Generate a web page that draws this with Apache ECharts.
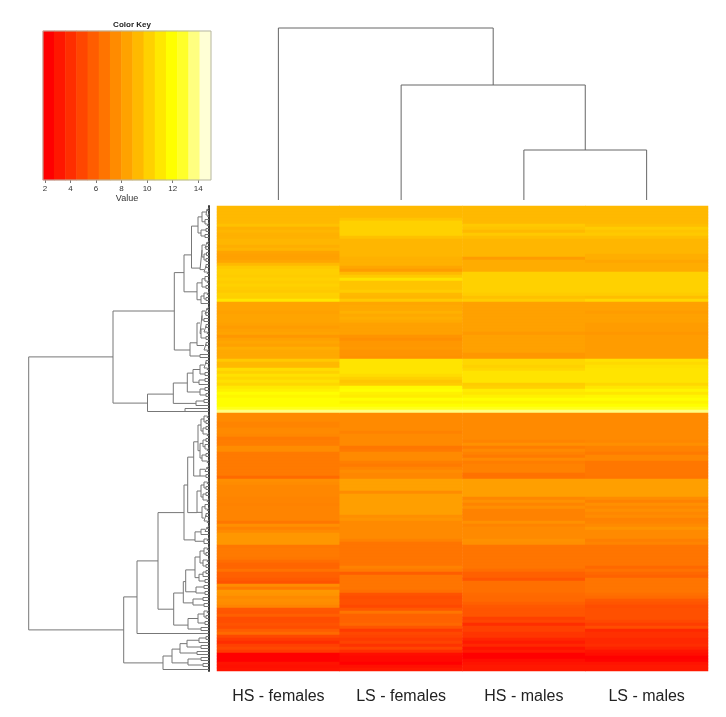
<!DOCTYPE html>
<html>
<head>
<meta charset="utf-8">
<style>html,body{margin:0;padding:0;background:#fff}#c{width:726px;height:717px}</style>
<script src="https://cdn.jsdelivr.net/npm/echarts@6/dist/echarts.min.js"></script>
</head>
<body>
<div id="c"></div>
<script>
const groups = ['HS - females','LS - females','HS - males','LS - males'];

const hsFemales = [9.3,9.3,9.3,9.3,9.3,9.3,9.6,9.0,9.2,9.0,9.0,9.2,9.2,8.9,9.1,8.5,8.4,8.4,8.6,9.3,9.9,10.1,10.1,10.0,10.2,10.0,10.2,10.0,9.9,10.2,10.1,11.0,8.5,8.5,8.5,8.4,8.5,8.5,8.5,
 8.4,8.2,8.4,8.5,8.0,8.4,8.6,8.4,8.9,8.7,8.7,8.7,9.9,9.3,9.3,
 10.6,10.2,10.8,10.4,10.8,10.4,11.1,11.4,11.9,11.6,11.9,11.9,11.9,12.5,13.7,
 7.5,7.5,7.5,7.3,7.3,7.5,7.5,7.4,6.9,
 7.0,7.0,7.6,7.6,6.9,6.9,6.9,6.9,6.9,6.9,6.9,6.9,6.3,
 7.7,7.6,7.4,7.4,7.4,7.4,7.3,7.3,7.2,7.3,7.3,7.3,7.3,7.3,6.8,
 7.7,7.2,7.5,8.0,8.0,8.0,8.0,6.8,6.9,6.9,6.9,6.8,
 6.4,6.1,6.1,6.6,5.9,5.9,5.7,5.4,7.6,6.9,8.0,7.9,7.5,7.7,7.6,7.3,
 5.6,5.5,5.9,5.2,5.2,5.4,5.2,5.8,6.3,5.0,4.5,4.0,4.7,5.0,4.5,2.3,2.3,2.3,3.0,2.9,3.0];

const lsFemales = [9.3,9.3,9.3,9.3,9.7,10.2,10.2,10.2,10.2,10.2,9.6,9.2,9.2,9.2,9.2,9.2,9.2,9.0,9.0,9.0,8.6,8.2,9.3,9.9,10.8,9.7,9.7,9.7,10.0,9.3,9.2,9.9,8.6,8.7,8.7,9.0,8.7,8.9,8.7,
 8.4,8.4,8.4,8.4,7.9,7.7,8.0,8.0,8.1,7.9,7.9,7.8,10.9,10.9,10.9,
 10.9,10.9,10.6,10.2,9.8,10.0,11.7,11.9,11.4,11.2,11.9,11.5,11.9,12.5,13.7,
 7.5,7.5,7.5,7.5,7.5,7.5,7.2,7.5,7.5,
 7.5,7.5,6.8,6.9,7.5,7.5,7.5,7.1,6.9,7.3,7.6,7.4,7.4,
 8.4,8.4,8.4,8.4,7.6,8.3,8.3,8.3,8.3,8.3,8.3,8.3,7.7,7.9,7.5,
 7.5,7.5,7.5,7.5,7.5,7.2,6.7,6.7,6.7,6.7,6.7,6.7,
 6.7,6.7,7.2,6.9,5.8,6.7,6.7,6.7,6.7,6.7,6.5,5.4,5.2,5.3,5.3,5.0,
 5.6,6.7,6.0,6.0,6.0,6.2,5.5,4.5,5.0,4.8,4.5,4.8,4.2,4.9,4.0,2.8,2.6,2.6,2.3,2.9,3.2];

const hsMales = [9.3,9.3,9.3,9.3,9.3,9.3,9.9,9.7,9.3,9.9,9.5,9.2,9.2,9.2,9.2,9.2,9.2,8.2,8.8,8.8,8.8,8.8,10.2,10.2,10.2,10.2,10.2,10.2,10.2,10.0,9.6,10.0,8.4,8.4,8.4,8.4,8.4,8.4,8.4,
 8.4,8.4,8.4,8.1,8.4,8.4,8.4,8.4,8.4,8.4,8.0,8.0,10.4,10.4,10.2,
 10.4,10.9,10.9,10.9,10.9,10.0,10.2,11.2,11.0,11.4,11.9,11.5,11.9,12.5,13.7,
 7.5,7.5,7.5,7.5,7.5,7.5,7.5,7.5,7.5,
 7.3,7.8,7.0,7.5,7.2,6.9,7.5,7.0,7.2,7.2,7.2,6.6,6.6,
 8.3,8.3,8.3,8.3,8.3,8.3,7.4,7.8,7.3,7.7,7.2,7.2,7.2,7.2,7.8,
 7.3,7.5,7.5,7.5,7.5,7.8,7.7,6.7,6.7,6.7,6.7,6.7,
 6.7,6.7,6.7,6.4,5.9,5.9,5.5,6.5,6.5,6.5,6.5,6.3,6.2,6.2,5.9,5.6,
 5.5,5.5,5.5,4.7,4.9,4.0,4.7,4.7,4.3,4.3,3.7,3.3,3.8,3.0,3.3,2.3,2.3,2.8,3.0,3.2,3.2];

const lsMales = [9.3,9.3,9.3,9.3,9.3,9.3,9.5,10.0,9.7,9.9,9.5,9.2,9.2,9.2,9.2,9.2,8.9,8.9,8.6,8.8,8.8,8.8,10.2,10.2,10.2,10.2,10.2,10.2,10.2,10.0,9.5,10.4,8.4,8.4,8.4,8.2,8.4,8.4,8.4,
 8.2,8.2,8.2,8.0,8.2,8.2,8.2,8.2,8.2,8.2,8.2,8.2,10.8,10.5,10.8,
 10.9,10.9,10.9,10.9,10.9,10.4,11.0,11.5,11.0,11.6,11.9,11.5,11.9,12.5,13.7,
 7.5,7.5,7.5,7.5,7.5,7.5,7.5,7.5,7.5,
 7.4,7.7,7.2,7.2,6.9,7.4,7.4,6.8,6.8,6.8,6.8,6.8,6.7,
 8.3,8.3,8.3,8.3,8.3,8.3,7.6,7.2,7.7,7.4,7.7,7.4,7.6,7.2,7.3,
 7.5,7.9,7.5,7.5,7.5,7.1,7.3,6.7,6.7,6.7,6.7,6.7,
 6.7,6.7,6.2,6.6,6.2,6.0,6.7,6.7,6.7,6.7,6.7,6.5,6.3,5.7,5.5,5.2,
 5.3,5.3,5.3,5.3,5.0,4.6,5.2,3.8,4.1,4.1,3.8,3.8,4.0,3.6,3.0,2.8,2.3,2.4,3.0,3.2,3.2];

const keyValues = [2.29,3.17,4.04,4.92,5.80,6.67,7.55,8.43,9.30,10.18,11.06,11.93,12.81,13.69,14.57];
const keyColors = ['#FF0000','#FF1700','#FF2E00','#FF4600','#FF5D00','#FF7400','#FF8B00','#FFA200','#FFB900','#FFD100','#FFE800','#FFFF00','#FFFF2A','#FFFF80','#FFFFD5'];
const keyTicks = [2,4,6,8,10,12,14];

// Dendrograms: [height, child, child, optional position]; 0 is a leaf.
const columnTree = [172,0,[115,0,[50,0,0]]];

const clusterD1 = [11,[7,[3,[2,0,0],[1.5,0,0]],[4,0,[2,0,0]]],[8,[3,0,0],[4,0,0]],6.7];
const clusterD2a = [7,[4,[2,0,0],[3,0,0]],[5,[2.5,0,0],[3,0,0]],14.7];
const clusterD2b = [5,[3,0,0],[2,0,0],21.2];
const clusterH = [12,[7,[4,0,[2,0,0]],[3,0,0]],[8,[5,[2,0,0],[3,0,0]],0],28.6];
const clusterG1a = [9,[7,[4,[2,0,0],[3,0,0]],[5,0,0]],[8,[5,[3,0,0],[2,0,0]],[3,0,0]],39];
const clusterG1b = [5,[3,0,0],[2,0,0],46.5];
const clusterG2 = [9,0,0,50];
const clusterF1a1 = [16,[9,[5,[3,0,0],[2,0,0]],[4,0,0]],[10,[4,0,0],0],55.7];
const clusterF1a2 = [9,[4,0,0],[3,0,0],62];
const clusterF1b = [13,[5,0,0],0,65.8];
const clusterF2 = [24,0,0,68.5];
const clusterP1a = [11,[8,[5,[2,0,0],[3,0,0]],[6,[3,0,0],[2,0,0]]],[9,[6,[3,0,0],[4,0,[2,0,0]]],[7,[3,0,0],[2,0,0]]],78.6];
const clusterP1b = [9,[4,[2,0,0],0],[3,0,0],90];
const clusterP2 = [12,[8,[5,[2,0,0],[3,0,0]],[6,[3,0,0],[2,0,0]]],[7,[4,0,[2,0,0]],[5,[3,0,0],[2,0,0]]],102.2];
const clusterQ = [14,[8,[4,[2,0,0],0],0],[5,[2,0,0],0],111.3];
const clusterN1a1 = [14,[9,[5,[2,0,0],[3,0,0]],[6,[2,0,0],[3,0,0]]],[10,[6,[3,0,0],0],[4,0,0]],121.3];
const clusterN1a2 = [13,[5,0,0],[4,0,0],128.6];
const clusterN1b = [16,[6,0,0],[5,0,0],132.3];
const clusterN2 = [21,[11,[5,[2,0,0],[3,0,0]],[4,0,0]],[8,0,0],139.7];
const clusterS1a = [29,[22,[10,[3,0,0],0],[8,0,0]],[12,0,0],147.7];
const clusterS1b = [21,[8,0,0],[6,0,0],152.3];

const branchD = [17.5,clusterD1,[9,clusterD2a,clusterD2b,20.7],16.3];
const branchC = [25,branchD,clusterH,22.2];
const branchG = [19,[12,clusterG1a,clusterG1b,45.6],clusterG2,48];
const branchB = [34.7,branchC,branchG,35];
const branchF1 = [35.7,[21.7,clusterF1a1,clusterF1a2,59],clusterF1b,62.7];
const branchF = [61.5,branchF1,clusterF2,65.7];
const branchA = [96,branchB,branchF,50.3];
const branchP = [21.3,[15.3,clusterP1a,clusterP1b,83.7],clusterP2,93];
const branchM = [25,branchP,clusterQ,102.2];
const branchN1 = [25.7,[23.3,clusterN1a1,clusterN1a2,125.2],clusterN1b,129];
const branchN = [35.3,branchN1,clusterN2,134.4];
const branchK = [51,branchM,branchN,118.3];
const branchJ = [72,branchK,0,130.3];
const branchS = [46,[37,clusterS1a,clusterS1b,150],0,152.3];
const branchE = [85.3,branchJ,branchS,141.3];
const rowTree = [180.3,branchA,branchE];

function flatten(tree){
  const pts = []; let next = 0;
  (function walk(n){
    if (n === 0) return {h:0, p:(next++) + 0.5};
    const a = walk(n[1]), b = walk(n[2]), h = n[0];
    pts.push({a, b, h});
    return {h, p: n[3] !== undefined ? n[3] : (a.p + b.p) / 2};
  })(tree);
  return pts;
}
function paths(tree, horizontal){
  const out = [];
  const pt = (h, p) => horizontal ? [p, h] : [h, p];
  flatten(tree).forEach(({a, b, h}) => {
    out.push(pt(a.h, a.p), pt(h, a.p), pt(h, b.p), pt(b.h, b.p), ['-','-']);
  });
  return out;
}

const rowLabels = hsFemales.map((_, i) => String(i));
const matrix = [hsFemales, lsFemales, hsMales, lsMales];
const heatData = [];
matrix.forEach((col, c) => col.forEach((v, r) => heatData.push([c, r, v])));

const font = '"Liberation Sans", Arial, sans-serif';
const treeLine = (xi, yi, data, color) => ({
  type:'line', xAxisIndex:xi, yAxisIndex:yi, data, symbol:'none', silent:true, animation:false,
  connectNulls:false, lineStyle:{color, width:1}, clip:false
});

const chart = echarts.init(document.getElementById('c'), null, {renderer:'canvas'});
chart.setOption({
  animation:false,
  backgroundColor:'#fff',
  title:{text:'Color Key', left:127, top:15.5, textAlign:'center',
    textStyle:{fontFamily:font, fontSize:8, fontWeight:'bold', color:'#222'}},
  grid:[
    {left:43, top:31, width:168, height:149, show:true, borderColor:'#b5b5a5', borderWidth:1, backgroundColor:'transparent', z:5},
    {left:217, top:28, width:491, height:172},
    {left:28.5, top:206, width:180.5, height:465},
    {left:217, top:206, width:491, height:465}
  ],
  visualMap:{show:false, type:'continuous', dimension:2, seriesIndex:[0,1], min:keyValues[0], max:keyValues[14], inRange:{color:keyColors}},
  xAxis:[
    {gridIndex:0, type:'category', data:keyValues.map(String), show:false},
    {gridIndex:0, type:'value', position:'bottom', min:1.85, max:15, splitLine:{show:false},
     axisLine:{show:false}, name:'Value', nameLocation:'middle', nameGap:14,
     nameTextStyle:{fontFamily:font, fontSize:9, color:'#333'},
     axisTick:{show:true, length:3, lineStyle:{color:'#777'}, customValues:keyTicks},
     axisLabel:{fontFamily:font, fontSize:8, color:'#333', margin:5, customValues:keyTicks}},
    {gridIndex:1, type:'value', min:0, max:4, show:false},
    {gridIndex:2, type:'value', min:0, max:180.5, inverse:true, show:false},
    {gridIndex:3, type:'category', data:groups, position:'bottom',
     axisLine:{show:false}, axisTick:{show:false}, splitLine:{show:false},
     axisLabel:{fontFamily:font, fontSize:16, color:'#222', margin:18, interval:0}}
  ],
  yAxis:[
    {gridIndex:0, type:'category', data:[''], show:false},
    {gridIndex:1, type:'value', min:0, max:172, show:false},
    {gridIndex:2, type:'value', min:0, max:155, inverse:true, position:'right', splitLine:{show:false},
     axisLine:{show:true, onZero:false, lineStyle:{color:'#3a3a3a', width:2}}, axisTick:{show:false}, axisLabel:{show:false}},
    {gridIndex:3, type:'category', data:rowLabels, inverse:true, show:false}
  ],
  series:[
    {type:'heatmap', xAxisIndex:0, yAxisIndex:0, silent:true, progressive:0,
     data:keyValues.map((v, i) => [i, 0, v])},
    {type:'heatmap', xAxisIndex:4, yAxisIndex:3, silent:true, progressive:0, data:heatData},
    treeLine(2, 1, paths(columnTree, true), '#666'),
    treeLine(3, 2, paths(rowTree, false), '#777')
  ]
});
</script>
</body>
</html>
